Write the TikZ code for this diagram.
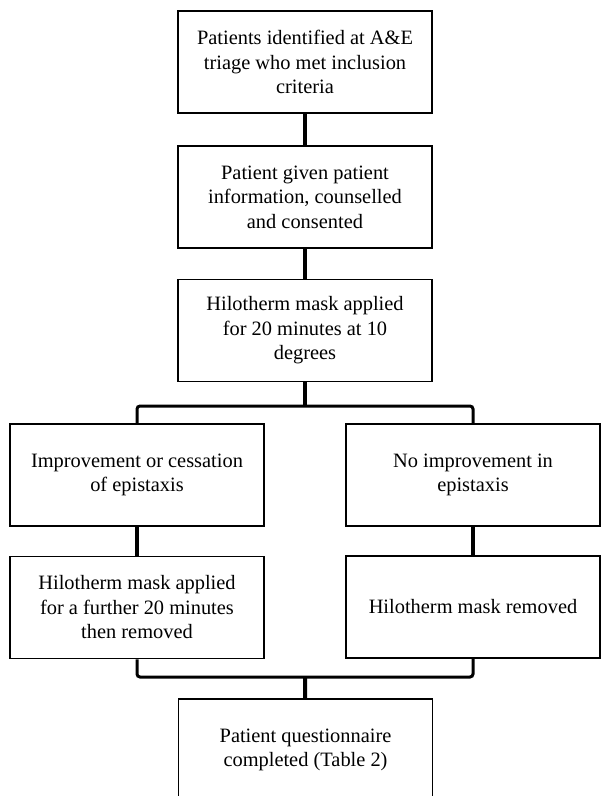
\documentclass[tikz,border=0pt]{standalone}
\usepackage{fontspec}
\setmainfont{Liberation Serif}
\usepackage{tikz}
\usetikzlibrary{positioning}
\usepackage{xcolor}

\begin{document}
\begin{tikzpicture}[x=1pt,y=-1pt,
    stage/.style={draw,line width=1.8pt,minimum width=254pt,minimum height=102pt,inner sep=0pt,align=center,font=\fontsize{20.4}{24.5}\selectfont},
    stem/.style={draw=black,line width=4pt},
    fork/.style={draw=black,line width=3pt,rounded corners=3pt}]

    \clip (0,0) rectangle (601,796);

    \node[stage] (PaId) at (305,62) {Patients identified at A\&E\\triage who met inclusion\\criteria};
    \node[stage] (PaGi) at (305,197) {Patient given patient\\information, counselled\\and consented};
    \node[stage] (HiMa) at (305,330.5) {Hilotherm mask applied\\for 20 minutes at 10\\degrees};

    \node[stage] (ImCe) at (137,475) {Improvement or cessation\\of epistaxis};
    \node[stage] (NoIm) at (473,475) {No improvement in\\epistaxis};

    \node[stage] (HiFu) at (137,607.5) {Hilotherm mask applied\\for a further 20 minutes\\then removed};
    \node[stage] (HiRe) at (473,607) {Hilotherm mask removed};

    \node[stage] (PaQu) at (305.5,750) {Patient questionnaire\\completed (Table 2)};

    \coordinate (SpTo) at (305,406);
    \coordinate (SpBo) at (305,677);

    \draw[stem] (PaId) to (PaGi);
    \draw[stem] (PaGi) to (HiMa);

    \draw[stem] (HiMa) to (SpTo);
    \draw[fork] (ImCe.north) |- (SpTo) -| (NoIm.north);

    \draw[stem] (ImCe) to (HiFu);
    \draw[stem] (NoIm) to (HiRe);

    \draw[fork] (HiFu.south) |- (SpBo) -| (HiRe.south);
    \draw[stem] (SpBo) to (PaQu);

  \end{tikzpicture}
\end{document}
